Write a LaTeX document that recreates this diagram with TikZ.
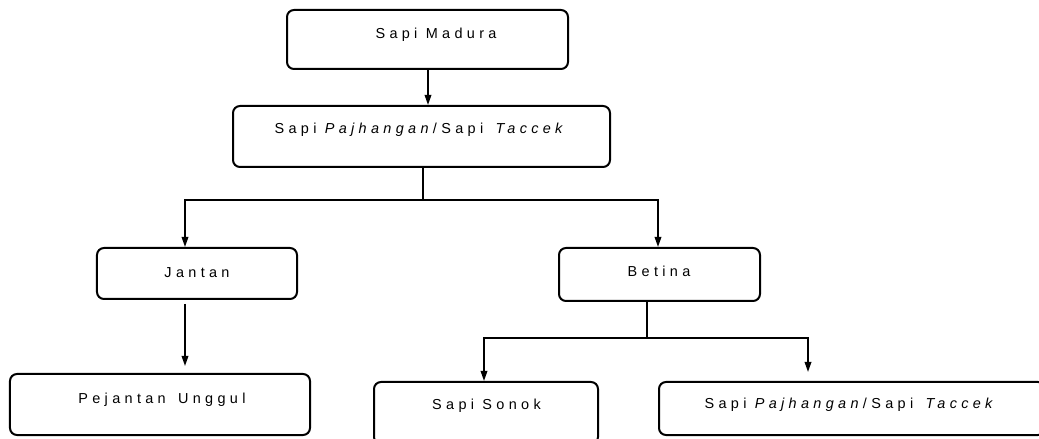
\documentclass[tikz,border=0pt]{standalone}
\usepackage{fontspec}
\setmainfont{Liberation Sans}[LetterSpace=30]
\usetikzlibrary{arrows.meta,calc}
\begin{document}
\begin{tikzpicture}[x=1bp,y=-1bp,
  box/.style={draw, line width=2bp, rounded corners=7bp, inner sep=0pt},
  lbl/.style={font=\fontsize{14.5}{17}\selectfont, inner sep=0pt, anchor=base},
  conn/.style={draw, line width=1.7bp},
  arr/.style={conn, -{Triangle[length=10bp,width=6.5bp]}}]
\path[use as bounding box] (0,0) rectangle (1039,439);
% boxes
\node[box, minimum width=281bp, minimum height=59bp] (b1) at (427.5,39.5) {};
\node[box, minimum width=377bp, minimum height=61bp] (b2) at (421.5,136.5) {};
\node[box, minimum width=200bp, minimum height=51bp] (jan) at (197,273.5) {};
\node[box, minimum width=201bp, minimum height=53bp] (bet) at (659.5,274.5) {};
\node[box, minimum width=300bp, minimum height=61bp] (pej) at (160,404.5) {};
\node[box, minimum width=224bp, minimum height=62bp] (son) at (486,413) {};
\node[box, minimum width=386bp, minimum height=53bp] (taj) at (852,408.5) {};
% labels
\node[lbl] (t1) at (436,39) {Sapi Madura};
\node[lbl] (t2) at (421,134) {Sapi \textit{Pajhangan}/Sapi\hspace{4bp} \textit{Taccek}};
\node[lbl] (t3) at (197,278) {Jantan};
\node[lbl] (t4) at (659,277) {Betina};
\node[lbl] (t5) at (162,404) {Pejantan\hspace{4bp} Unggul};
\node[lbl] (t6) at (486.5,410) {Sapi Sonok};
\node[lbl] (t7) at (851,409) {Sapi \textit{Pajhangan}/Sapi\hspace{4bp} \textit{Taccek}};
% junctions
\coordinate (j1) at (423,200);
\coordinate (jL) at (185,200);
\coordinate (jR) at (658,200);
\coordinate (k1) at (647,338);
\coordinate (kL) at (484,338);
\coordinate (kR) at (808,338);
% connectors
\draw[arr] (b1.south -| 428,0) -- (b2.north -| 428,0);
\draw[conn] (b2.south -| j1) -- (j1);
\draw[arr] (j1) -- (jL) -- (jL |- jan.north);
\draw[arr] (j1) -- (jR) -- (jR |- bet.north);
\draw[arr] ($(jan.south -| jL)+(0,4)$) -- ($(pej.north -| jL)+(0,-7)$);
\draw[conn] (bet.south -| k1) -- (k1);
\draw[arr] (k1) -- (kL) -- (kL |- son.north);
\draw[arr] (k1) -- (kR) -- ($(kR |- taj.north)+(0,-9)$);
\end{tikzpicture}
\end{document}
